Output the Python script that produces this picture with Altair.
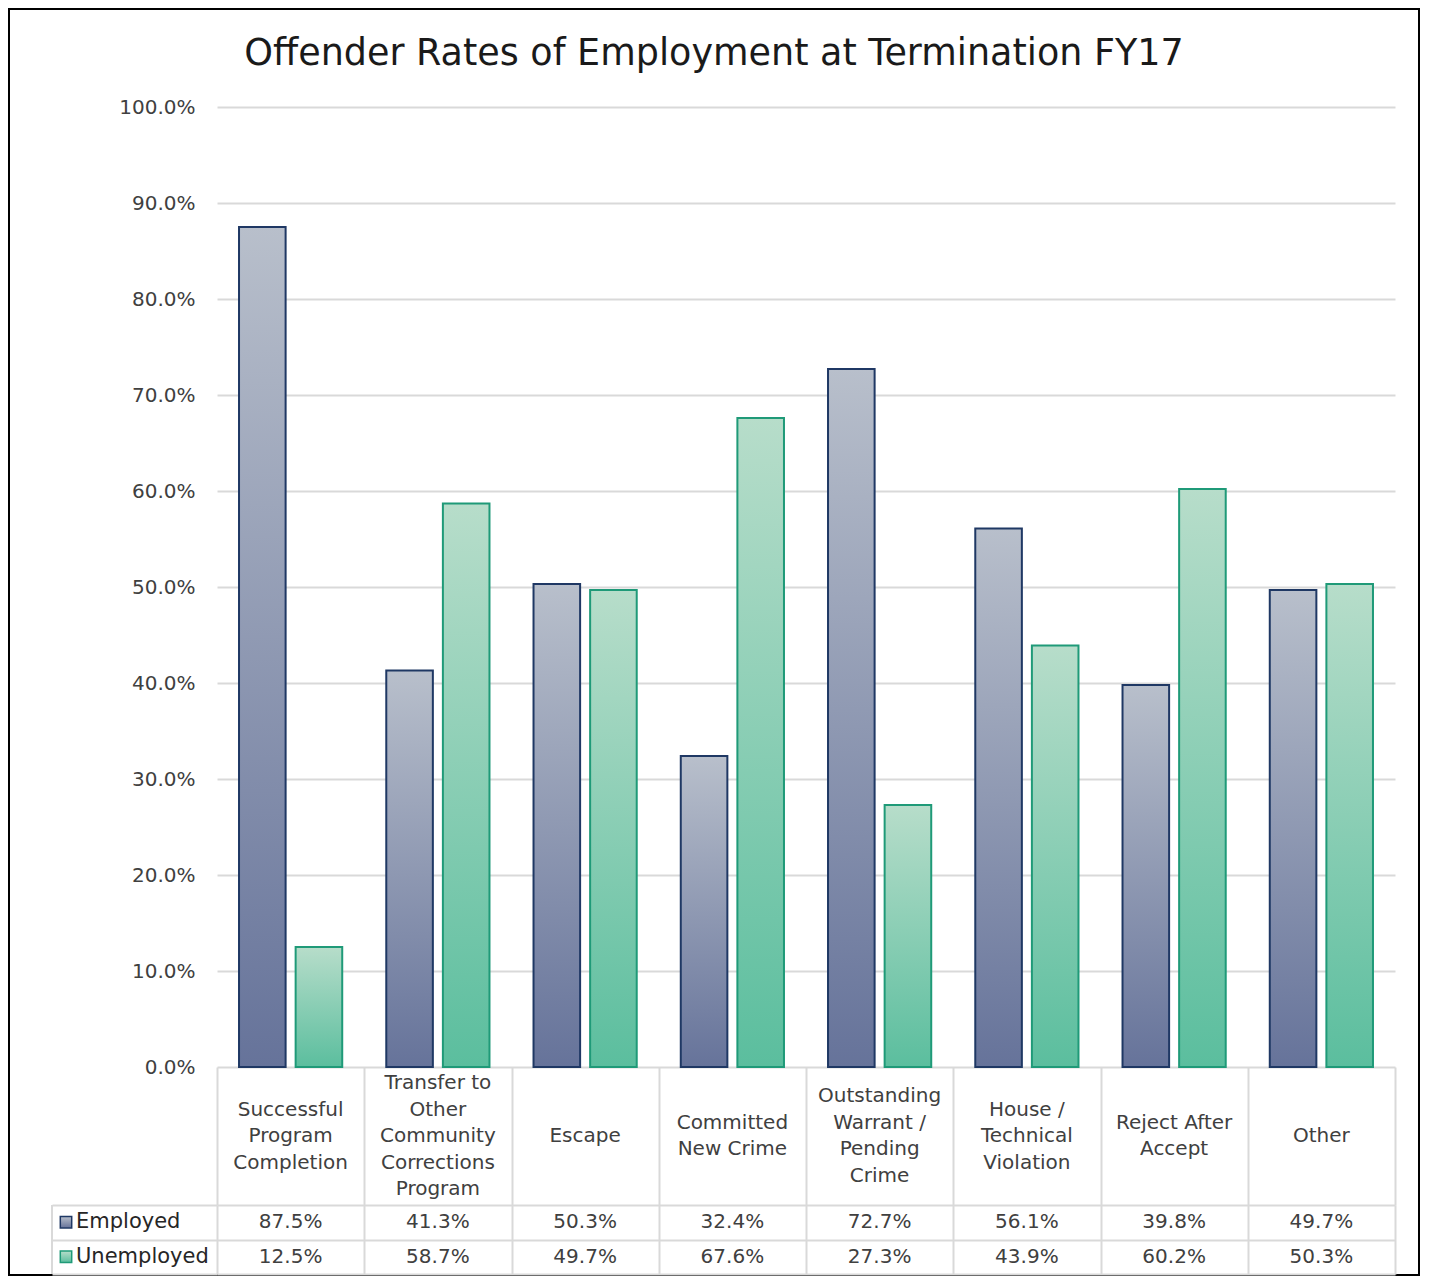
import altair as alt
import pandas as pd

# ---------------- data ----------------
title_text = "Offender Rates of Employment at Termination FY17"
categories = [
    "Successful Program Completion",
    "Transfer to Other Community Corrections Program",
    "Escape",
    "Committed New Crime",
    "Outstanding Warrant / Pending Crime",
    "House / Technical Violation",
    "Reject After Accept",
    "Other",
]
category_labels = [
    "Successful\nProgram\nCompletion",
    "Transfer to\nOther\nCommunity\nCorrections\nProgram",
    "Escape",
    "Committed\nNew Crime",
    "Outstanding\nWarrant /\nPending\nCrime",
    "House /\nTechnical\nViolation",
    "Reject After\nAccept",
    "Other",
]
series = ["Employed", "Unemployed"]
employed = [0.875, 0.413, 0.503, 0.324, 0.727, 0.561, 0.398, 0.497]
unemployed = [0.125, 0.587, 0.497, 0.676, 0.273, 0.439, 0.602, 0.503]
y_ticks = [0.0, 0.1, 0.2, 0.3, 0.4, 0.5, 0.6, 0.7, 0.8, 0.9, 1.0]

rows = []
for c, e, u in zip(categories, employed, unemployed):
    rows.append({"category": c, "series": "Employed", "value": e})
    rows.append({"category": c, "series": "Unemployed", "value": u})
df = pd.DataFrame(rows)
df_cat = pd.DataFrame({"category": categories, "label": category_labels})
df_series = pd.DataFrame({"series": series})
one = pd.DataFrame({"k": [0]})

# ---------------- styling ----------------
FONT = "DejaVu Sans"
TXT = "#404040"
GRID = "#d9d9d9"
W = 1178
H = 960
HEADER_H = 138
ROWS_H = 69
LINE_H = 26.5

grad_emp = alt.Gradient(
    gradient="linear",
    stops=[alt.GradientStop(color="#b8bfcb", offset=0),
           alt.GradientStop(color="#66739a", offset=1)],
    x1=0, x2=0, y1=0, y2=1,
)
grad_unemp = alt.Gradient(
    gradient="linear",
    stops=[alt.GradientStop(color="#b7ddca", offset=0),
           alt.GradientStop(color="#5bbe9e", offset=1)],
    x1=0, x2=0, y1=0, y2=1,
)
stroke_emp = "#1f3864"
stroke_unemp = "#1f9a78"

x_scale = alt.Scale(domain=categories, paddingInner=0, paddingOuter=0)

# ---------------- top: bars ----------------
x_enc = alt.X("category:N", scale=x_scale, axis=None)
xoff_enc = alt.XOffset("series:N", scale=alt.Scale(domain=series, paddingInner=0.177, paddingOuter=0.389))
y_enc = alt.Y(
    "value:Q",
    scale=alt.Scale(domain=[0, 1]),
    axis=alt.Axis(values=y_ticks, format=".1%", grid=True, gridColor=GRID, gridWidth=2,
                  domain=False, ticks=False, labelPadding=22, labelFontSize=20,
                  labelFont=FONT, labelColor=TXT, title=None),
)

bars_emp = alt.Chart(df).transform_filter(alt.datum.series == "Employed").mark_bar(
    fill=grad_emp, stroke=stroke_emp, strokeWidth=2
).encode(x=x_enc, xOffset=xoff_enc, y=y_enc)

bars_unemp = alt.Chart(df).transform_filter(alt.datum.series == "Unemployed").mark_bar(
    fill=grad_unemp, stroke=stroke_unemp, strokeWidth=2
).encode(x=x_enc, xOffset=xoff_enc, y=y_enc)

frame = alt.Chart(one).mark_rect(fill="transparent", stroke="#000000", strokeWidth=2).encode(
    x=alt.value(-208), x2=alt.value(1202), y=alt.value(-98), y2=alt.value(1168)
)

title_mark = alt.Chart(one).mark_text(
    text=title_text, font=FONT, fontSize=36.5, color="#1a1a1a", align="center", baseline="alphabetic"
).encode(x=alt.value(497), y=alt.value(-42))

top = alt.layer(frame, title_mark, bars_emp, bars_unemp).properties(width=W, height=H)

# ---------------- header row: category labels ----------------
header = alt.Chart(df_cat).transform_calculate(
    ypos=f"{HEADER_H / 2} - (split(datum.label, '\\n').length - 1) * {LINE_H / 2}"
).mark_text(
    lineBreak="\n", font=FONT, fontSize=20, color=TXT, lineHeight=LINE_H, baseline="middle", align="center"
).encode(
    x=alt.X("category:N", scale=x_scale,
            axis=alt.Axis(grid=True, tickBand="extent", gridColor=GRID, gridWidth=2,
                          labels=False, ticks=False, domain=False, title=None)),
    y=alt.Y("ypos:Q", scale=alt.Scale(domain=[0, HEADER_H], reverse=True), axis=None),
    text="label:N",
).properties(width=W, height=HEADER_H)

# ---------------- data rows ----------------
x_tab = alt.X("category:N", scale=x_scale,
              axis=alt.Axis(grid=True, tickBand="extent", gridColor=GRID, gridWidth=2,
                            labels=False, ticks=False, domain=False, title=None))
y_tab = alt.Y("series:N", scale=alt.Scale(domain=series, paddingInner=0, paddingOuter=0),
              axis=alt.Axis(grid=True, tickBand="extent", gridColor=GRID, gridWidth=2,
                            labels=False, ticks=True, tickSize=165, tickColor=GRID, tickWidth=2,
                            domain=False, title=None))

values_text = alt.Chart(df).mark_text(font=FONT, fontSize=20, color=TXT, baseline="middle").encode(
    x=x_tab, y=y_tab, text=alt.Text("value:Q", format=".1%")
)

left_border = alt.Chart(one).mark_rule(stroke=GRID, strokeWidth=2).encode(
    x=alt.value(-165), y=alt.value(0), y2=alt.value(ROWS_H)
)

sq_emp = alt.Chart(df_series).transform_filter(alt.datum.series == "Employed").mark_point(
    shape="square", size=130, filled=True, fill=grad_emp, stroke=stroke_emp, strokeWidth=1.5, opacity=1
).encode(x=alt.value(-151), y=alt.Y("series:N"))

sq_unemp = alt.Chart(df_series).transform_filter(alt.datum.series == "Unemployed").mark_point(
    shape="square", size=130, filled=True, fill=grad_unemp, stroke=stroke_unemp, strokeWidth=1.5, opacity=1
).encode(x=alt.value(-151), y=alt.Y("series:N"))

row_labels = alt.Chart(df_series).mark_text(
    font=FONT, fontSize=21, color="#262626", align="left", baseline="middle"
).encode(x=alt.value(-141), y=alt.Y("series:N"), text="series:N")

table_rows = alt.layer(values_text, left_border, sq_emp, sq_unemp, row_labels).properties(
    width=W, height=ROWS_H
)

chart = alt.vconcat(top, header, table_rows, spacing=0, bounds="flush").resolve_scale(
    x="independent", y="independent"
).configure_view(strokeWidth=0).properties(padding=0, background="white")

chart.save("out.html", embed_options={"renderer": "svg", "actions": False})
